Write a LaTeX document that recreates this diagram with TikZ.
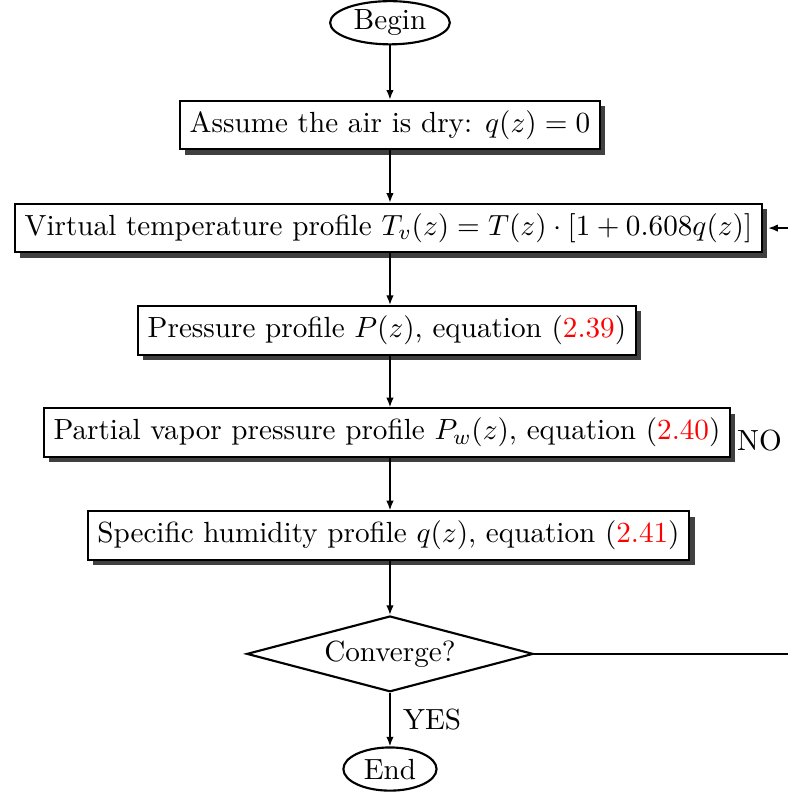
\documentclass[tikz,border=0pt,11pt]{standalone}
\usepackage{amsmath,amssymb}
\usepackage{tikz}
\usetikzlibrary{arrows.meta,positioning,calc,shapes,shadows}

\newcommand{\eqnref}[1]{(\textcolor{red}{#1})}

\begin{document}
\begin{tikzpicture}[
    terminal/.style={ellipse, draw, thick, minimum height=0.57cm, inner sep=0pt},
    process/.style={rectangle, draw, thick, fill=white, minimum height=0.62cm,
        drop shadow={shadow xshift=0.07cm, shadow yshift=-0.07cm, fill=black!75, opacity=1}},
    decision/.style={diamond, draw, thick, aspect=3.8, minimum width=3.78cm, minimum height=1cm, inner sep=1pt},
    flow/.style={-{Latex[length=3.6pt, width=2.8pt]}, semithick}
]
    \useasboundingbox (-5.147, 0) rectangle (5.253, -10.519);

    % Start
    \node[terminal, minimum width=1.58cm] (begin) at (0, -0.30) {Begin};
    \node[process] (dry) at (0, -1.65) {Assume the air is dry: $q(z) = 0$};

    % Iteration
    \node[process] (virt) at (-0.02, -3.01) {Virtual temperature profile $T_v(z) = T(z)\cdot[1 + 0.608q(z)]$};
    \node[process] (pres) at (-0.04, -4.36) {Pressure profile $P(z)$, equation \eqnref{2.39}};
    \node[process] (vap) at (-0.04, -5.71) {Partial vapor pressure profile $P_w(z)$, equation \eqnref{2.40}};
    \node[process] (hum) at (-0.02, -7.07) {Specific humidity profile $q(z)$, equation \eqnref{2.41}};

    % Test
    \node[decision] (conv) at (0, -8.63) {Converge?};
    \node[terminal, minimum width=1.23cm] (end) at (0, -10.15) {End};
    \coordinate (loop) at (5.31, -8.63);

    % Arrows
    \draw[flow] (begin) -- (dry);
    \draw[flow] (dry) -- (dry |- virt.north);
    \draw[flow] (dry |- virt.south) -- (dry |- pres.north);
    \draw[flow] (dry |- pres.south) -- (dry |- vap.north);
    \draw[flow] (dry |- vap.south) -- (dry |- hum.north);
    \draw[flow] (dry |- hum.south) -- (conv);
    \draw[flow] (conv) -- node[right, xshift=1pt] {YES} (end);
    \draw[flow, shorten >=0.07cm] (conv.east) -- (loop) -- node[left] {NO} (loop |- virt.east) -- (virt.east);
\end{tikzpicture}
\end{document}
